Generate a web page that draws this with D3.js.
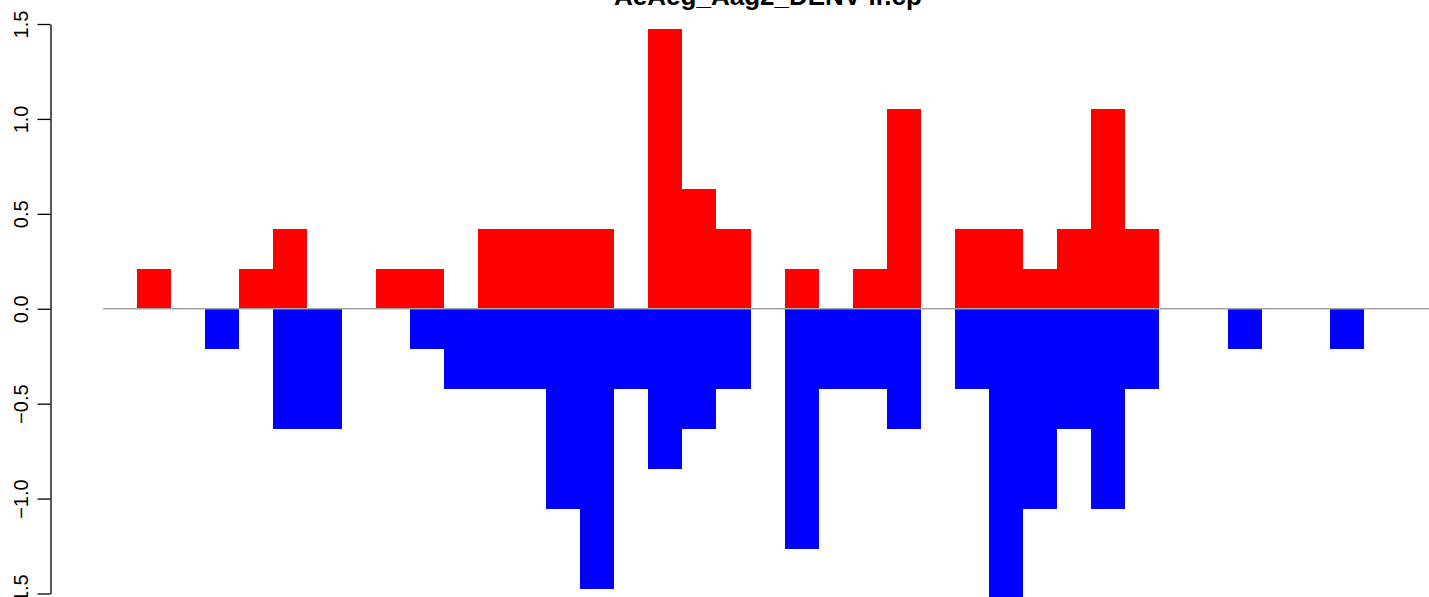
<!DOCTYPE html>
<html>
<head>
<meta charset="utf-8">
<script src="https://cdn.jsdelivr.net/npm/d3@7"></script>
<style>
  html, body { margin: 0; padding: 0; background: #fff; }
  svg { display: block; }
  text { font-family: "Liberation Sans", Arial, Helvetica, sans-serif; }
</style>
</head>
<body>
<svg id="chart" width="1429" height="597"></svg>
<script>
// Data
const title = "AeAeg_Aag2_DENV-ir.cp";
const bins = d3.range(38);
const upValues = [
  0, 0.211, 0, 0, 0.211, 0.421, 0, 0, 0.211, 0.211,
  0, 0.421, 0.421, 0.421, 0.421, 0, 1.474, 0.632, 0.421, 0,
  0.211, 0, 0.211, 1.053, 0, 0.421, 0.421, 0.211, 0.421, 1.053,
  0.421, 0, 0, 0, 0, 0, 0, 0
];
const downValues = [
  0, 0, 0, -0.211, 0, -0.632, -0.632, 0, 0, -0.211,
  -0.421, -0.421, -0.421, -1.053, -1.474, -0.421, -0.842, -0.632, -0.421, 0,
  -1.263, -0.421, -0.421, -0.632, 0, -0.421, -1.684, -1.053, -0.632, -1.053,
  -0.421, 0, 0, -0.211, 0, 0, -0.211, 0
];
const yTicks = [-1.5, -1.0, -0.5, 0.0, 0.5, 1.0, 1.5];

const W = 1429, H = 597;
const svg = d3.select("#chart");

const x = d3.scaleBand().domain(bins).range([103, 103 + 38 * 34.08]).padding(0);
const y = d3.scaleLinear().domain([-1.5, 1.5]).range([593.5, 24]);

// bars
const g = svg.append("g");
g.selectAll("rect.up").data(bins.filter(i => upValues[i] !== 0)).join("rect")
  .attr("class", "up")
  .attr("x", i => x(i))
  .attr("width", x.bandwidth())
  .attr("y", i => y(upValues[i]))
  .attr("height", i => y(0) - y(upValues[i]))
  .attr("fill", "#ff0000")
  .attr("shape-rendering", "crispEdges");

g.selectAll("rect.down").data(bins.filter(i => downValues[i] !== 0)).join("rect")
  .attr("class", "down")
  .attr("x", i => x(i))
  .attr("width", x.bandwidth())
  .attr("y", y(0))
  .attr("height", i => y(downValues[i]) - y(0))
  .attr("fill", "#0000ff")
  .attr("shape-rendering", "crispEdges");

// zero line
svg.append("line")
  .attr("x1", x.range()[0]).attr("x2", W)
  .attr("y1", y(0)).attr("y2", y(0))
  .attr("stroke", "#a3a3a3").attr("stroke-width", 1.5);

// y axis
const fmt = v => (v < 0 ? "\u2212" : "") + Math.abs(v).toFixed(1);
const axis = d3.axisLeft(y).tickValues(yTicks).tickSize(13).tickSizeOuter(0).tickFormat(fmt);
const ag = svg.append("g").attr("transform", "translate(50.5,0)").call(axis);
ag.select(".domain").attr("stroke", "#000").attr("stroke-width", 1.3);
ag.selectAll(".tick line").attr("stroke", "#000").attr("stroke-width", 1.3);
ag.selectAll(".tick text")
  .attr("font-size", 20)
  .attr("font-family", "Liberation Sans, Arial, sans-serif")
  .attr("fill", "#000")
  .attr("x", null).attr("dy", null)
  .attr("text-anchor", "middle")
  .attr("transform", "translate(-22.5,0) rotate(-90)");

// title
svg.append("text")
  .attr("x", 768).attr("y", 5)
  .attr("text-anchor", "middle")
  .attr("font-size", 26)
  .attr("font-weight", "bold")
  .attr("fill", "#000")
  .text(title);
</script>
</body>
</html>
